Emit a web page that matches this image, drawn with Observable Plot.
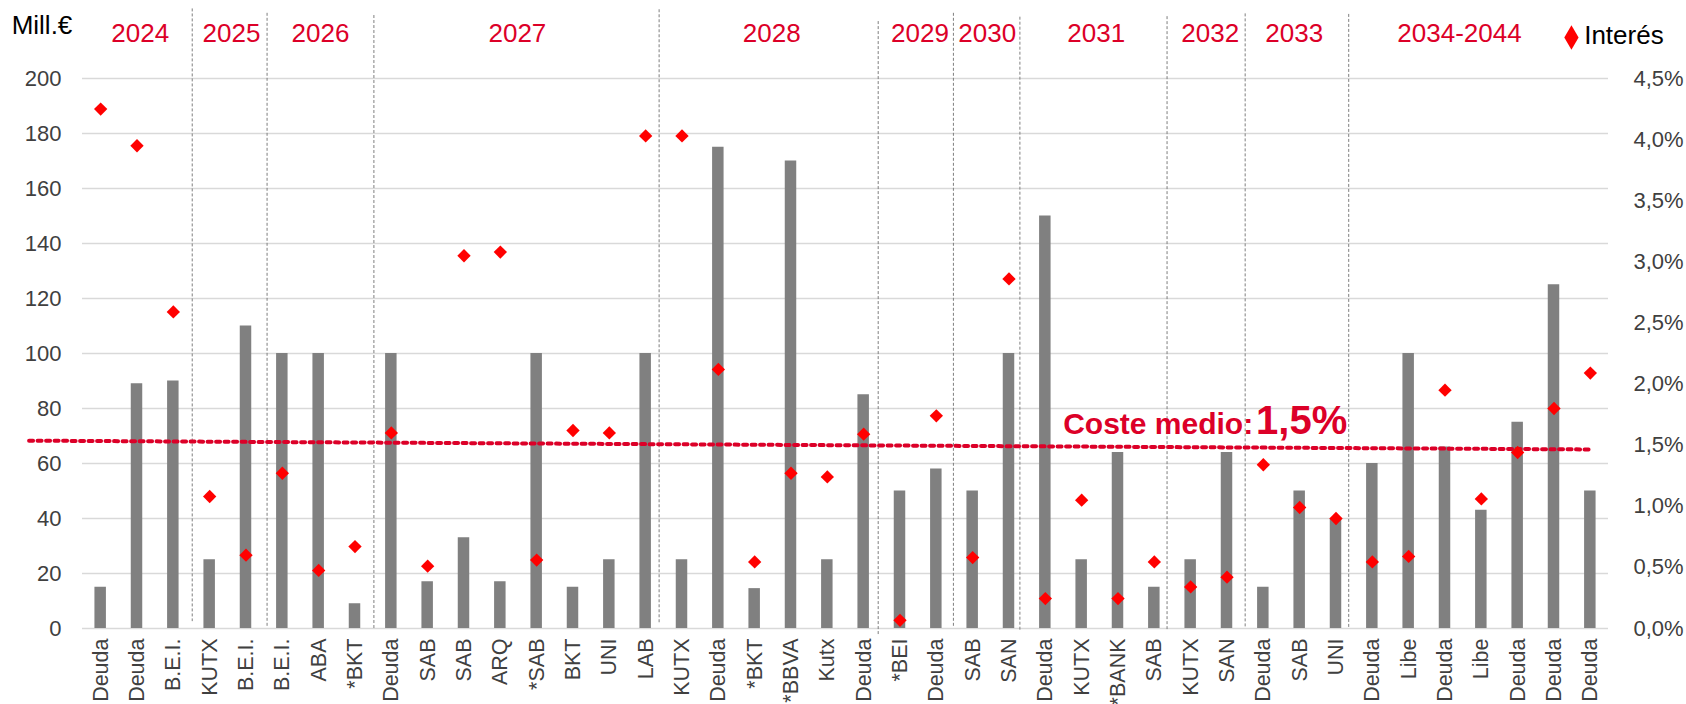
<!DOCTYPE html>
<html>
<head>
<meta charset="utf-8">
<script src="https://cdn.jsdelivr.net/npm/d3@7"></script>
<script src="https://cdn.jsdelivr.net/npm/@observablehq/plot@0.6"></script>
<style>
  html, body { margin: 0; padding: 0; background: #fff; overflow: hidden; }
  #chart svg { display: block; }
</style>
</head>
<body>
<div id="chart"></div>
<script>
// ---- Data ----
const labels = ["Deuda","Deuda","B.E.I.","KUTX","B.E.I.","B.E.I.","ABA","*BKT","Deuda","SAB","SAB","ARQ","*SAB","BKT","UNI","LAB","KUTX","Deuda","*BKT","*BBVA","Kutx","Deuda","*BEI","Deuda","SAB","SAN","Deuda","KUTX","*BANK","SAB","KUTX","SAN","Deuda","SAB","UNI","Deuda","Libe","Deuda","Libe","Deuda","Deuda","Deuda"];
const amounts = [15,89,90,25,110,100,100,9,100,17,33,17,100,15,25,100,25,175,14.5,170,25,85,50,58,50,100,150,25,64,15,25,64,15,50,40,60,100,66,43,75,125,50];
const rates = [4.25,3.95,2.59,1.08,0.60,1.27,0.475,0.67,1.60,0.51,3.05,3.08,0.56,1.62,1.60,4.03,4.03,2.12,0.545,1.27,1.24,1.59,0.067,1.74,0.58,2.86,0.245,1.05,0.245,0.545,0.34,0.42,1.34,0.99,0.90,0.545,0.59,1.95,1.06,1.44,1.80,2.09];
const years = ["2024","2025","2026","2027","2028","2029","2030","2031","2032","2033","2034-2044"];
const yearLabelPos = [1.59,4.1,6.55,11.97,18.97,23.05,24.9,27.9,31.04,33.35,37.9];
const separatorPos = [3.02,5.08,8.02,15.87,21.9,23.97,25.8,29.85,32.0,34.85];
const separatorTop = [225.3,223.7,222.9,225,220.7,223.7,222.3,222.5,223.5,223.3];
const separatorBottom = [2.5,0.7,-0.4,1.8,-2.2,0.7,-0.7,-0.4,0.4,0.4];
const yTicks = [0,20,40,60,80,100,120,140,160,180,200];
const rateTicks = [0,0.5,1,1.5,2,2.5,3,3.5,4,4.5];
const trendX = [-1.47, 41.48];
const trendRate = [1.537, 1.465];
const averageLabel = "1,5%";

const AMT_MAX = 200, RATE_MAX = 4.5;
const toY = r => r / RATE_MAX * AMT_MAX;

const data = labels.map((label, i) => ({i, label, amount: amounts[i], rate: rates[i]}));
const yearData = years.map((y, k) => ({year: y, x: yearLabelPos[k]}));
const seps = separatorPos.map((x, k) => ({x, top: separatorTop[k], bottom: separatorBottom[k]}));
const trend = trendX.map((x, k) => ({x, rate: trendRate[k]}));

const RED = "#dc0028";
const FONT = "Liberation Sans, Arial, sans-serif";

const chart = Plot.plot({
  width: 1686,
  height: 704,
  marginLeft: 82,
  marginRight: 78,
  marginTop: 78,
  marginBottom: 76,
  x: {domain: [0, labels.length], axis: null},
  y: {domain: [0, AMT_MAX], axis: null},
  style: {fontFamily: FONT, background: "white", overflow: "visible"},
  marks: [
    Plot.gridY(yTicks, {stroke: "#d9d9d9", strokeOpacity: 1, strokeWidth: 1.5}),
    Plot.ruleX(seps, {x: "x", y1: "top", y2: "bottom", stroke: "#7f7f7f", strokeWidth: 1, strokeDasharray: "3,2"}),
    Plot.rect(data, {x1: d => d.i + 0.342, x2: d => d.i + 0.658, y1: 0, y2: "amount", fill: "#808080"}),
    Plot.line(trend, {x: "x", y: d => toY(d.rate), stroke: RED, strokeWidth: 4, strokeDasharray: "4,4.5"}),
    Plot.dot(data, {x: d => d.i + 0.5, y: d => toY(d.rate), symbol: "diamond2", r: 6, fill: "#ff0000", stroke: null}),
    Plot.axisY(yTicks, {anchor: "left", tickSize: 0, tickPadding: 21, fontSize: 22, fill: "#404040", label: null}),
    Plot.axisY(rateTicks.map(toY), {anchor: "right", tickSize: 0, tickPadding: 25, fontSize: 22, fill: "#404040", label: null,
      tickFormat: v => (v / AMT_MAX * RATE_MAX).toFixed(1).replace(".", ",") + "%"}),
    Plot.axisX(data.map(d => d.i + 0.5), {anchor: "bottom", tickSize: 0, tickPadding: 10, tickRotate: -90, fontSize: 21.5, fill: "#404040", label: null,
      tickFormat: v => labels[Math.floor(v)]}),
    Plot.text(yearData, {x: "x", y: AMT_MAX, dy: -45, text: "year", fontSize: 26, fill: RED, textAnchor: "middle", lineAnchor: "middle"}),
    Plot.text(["Mill.€"], {x: -1.95, y: AMT_MAX, dy: -53, text: d => d, fontSize: 26, fill: "#000", textAnchor: "start", lineAnchor: "middle"}),
    Plot.dot([0], {x: 40.98, y: AMT_MAX, dy: -41, symbol: "diamond", r: 7.5, fill: "#ff0000", stroke: null}),
    Plot.text(["Interés"], {x: 41.33, y: AMT_MAX, dy: -43, text: d => d, fontSize: 26, fill: "#000", textAnchor: "start", lineAnchor: "middle"}),
    Plot.text(["Coste medio:"], {x: 26.99, y: 70.55, text: d => d, fontSize: 30, fontWeight: "bold", fill: RED, textAnchor: "start", lineAnchor: "bottom"}),
    Plot.text([averageLabel], {x: 32.3, y: 70.55, text: d => d, fontSize: 40, fontWeight: "bold", fill: RED, textAnchor: "start", lineAnchor: "bottom"})
  ]
});
document.getElementById("chart").appendChild(chart);
</script>
</body>
</html>
